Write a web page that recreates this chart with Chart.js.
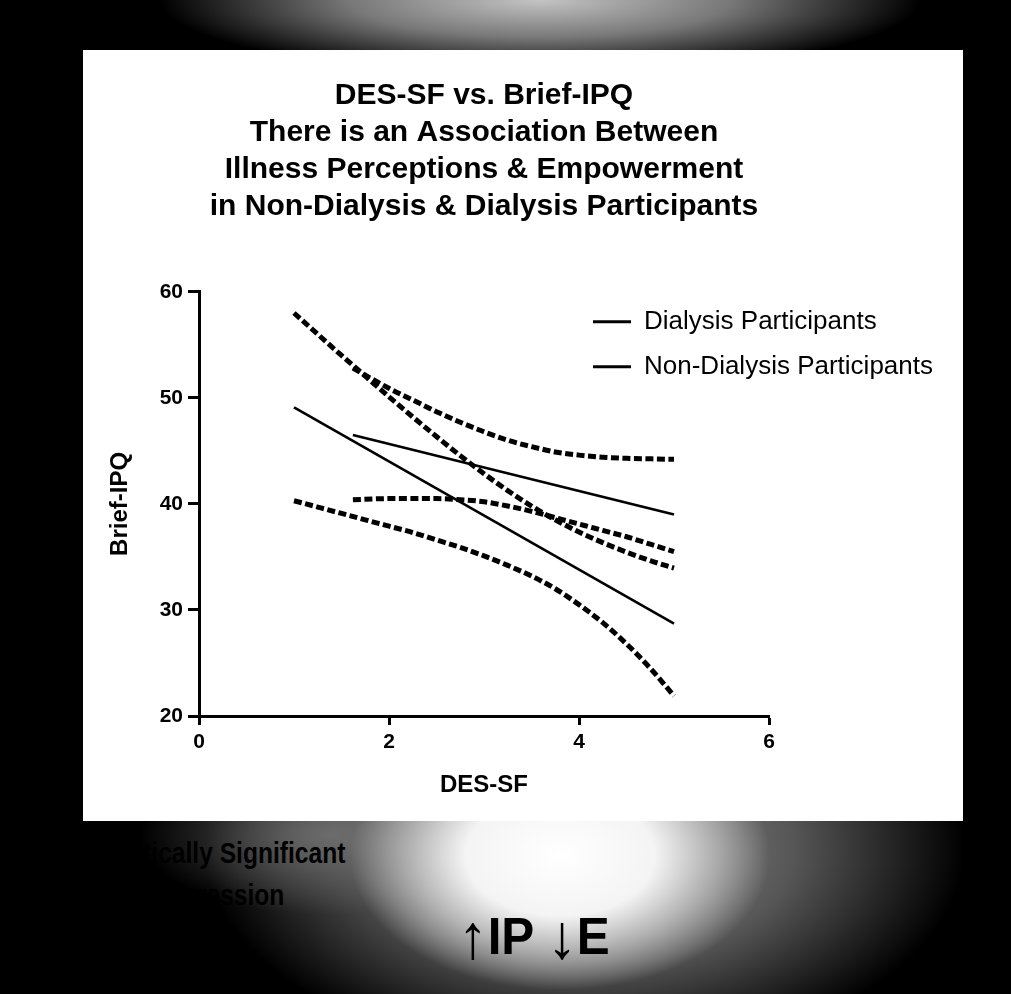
<!DOCTYPE html>
<html lang="en">
<head>
    <meta charset="UTF-8">
    <title>DES-SF vs. Brief-IPQ</title>
    <script src="https://cdn.jsdelivr.net/npm/chart.js"></script>
    <style>
        html, body {
            margin: 0;
            width: 1011px;
            height: 994px;
            overflow: hidden;
        }
        body {
            position: relative;
            background-color: #000;
            background-image:
                radial-gradient(ellipse 210px 135px at 560px 855px, #fff 0%, #f4f4f4 45%, rgba(200,200,200,0.8) 70%, rgba(150,150,150,0) 100%),
                radial-gradient(ellipse 380px 210px at 585px 850px, rgba(160,160,160,0.95) 0%, rgba(115,115,115,0.75) 55%, rgba(0,0,0,0) 100%),
                radial-gradient(ellipse 190px 80px at 330px 835px, rgba(125,125,125,0.8) 0%, rgba(0,0,0,0) 100%),
                radial-gradient(ellipse 380px 75px at 540px 0px, #c4c4c4 0%, rgba(150,150,150,0.8) 50%, rgba(0,0,0,0) 100%);
            font-family: "Liberation Sans", Arial, sans-serif;
        }
        .panel {
            position: absolute;
            left: 83px;
            top: 50px;
            width: 880px;
            height: 771px;
            background: #fff;
        }
        .slide-text {
            position: absolute;
            font-weight: bold;
            color: #000;
            white-space: nowrap;
            transform-origin: right center;
            transform: scaleX(0.82);
            line-height: 1;
        }
        #sig { right: 666px; top: 838px; font-size: 30px; }
        #reg { right: 727px; top: 880px; font-size: 30px; }
        #ipe { left: 458px; top: 902px; font-size: 52px; transform-origin: left center; transform: scaleX(0.95); }
        #ipe .arrow { font-weight: normal; font-size: 1.2em; position: relative; top: 0.06em; }
    </style>
</head>
<body>
    <div class="panel">
        <canvas id="desChart" width="880" height="771"></canvas>
    </div>
    <div class="slide-text" id="sig">Statistically Significant</div>
    <div class="slide-text" id="reg">Regression</div>
    <div class="slide-text" id="ipe"><span class="arrow">↑</span>IP <span class="arrow">↓</span>E</div>

    <script>
        // regression lines
        const lineAX = [1, 5];
        const lineAY = [49.1, 28.7];
        const lineBX = [1.62, 5];
        const lineBY = [46.5, 39.0];

        // dashed bands around the steep line
        const bandAX = [1, 1.25, 1.5, 1.75, 2, 2.25, 2.5, 2.75, 3, 3.25, 3.5, 3.75, 4, 4.25, 4.5, 4.75, 5];
        const upperA = [58.0, 56.0, 54.0, 52.05, 50.1, 48.2, 46.35, 44.55, 42.85, 41.25, 39.8, 38.5, 37.35, 36.35, 35.45, 34.65, 33.95];
        const lowerA = [40.3, 39.7, 39.1, 38.5, 37.9, 37.3, 36.6, 35.9, 35.1, 34.2, 33.2, 32.0, 30.5, 28.8, 26.8, 24.5, 21.9];

        // dashed bands around the shallow line
        const bandBX = [1.62, 2, 2.25, 2.5, 2.75, 3, 3.25, 3.5, 3.75, 4, 4.25, 4.5, 4.75, 5];
        const upperB = [52.8, 50.9, 49.8, 48.7, 47.7, 46.8, 46.0, 45.4, 44.9, 44.6, 44.4, 44.3, 44.25, 44.2];
        const lowerB = [40.4, 40.5, 40.5, 40.5, 40.4, 40.2, 39.8, 39.3, 38.7, 38.1, 37.5, 36.9, 36.2, 35.5];

        const titleLines = [
            'DES-SF vs. Brief-IPQ',
            'There is an Association Between',
            'Illness Perceptions & Empowerment',
            'in Non-Dialysis & Dialysis Participants'
        ];
        const xTicks = [0, 2, 4, 6];
        const yTicks = [20, 30, 40, 50, 60];

        function pts(xs, ys) {
            return xs.map((x, i) => ({ x: x, y: ys[i] }));
        }

        function solid(label, xs, ys) {
            return {
                label: label,
                data: pts(xs, ys),
                borderColor: '#000',
                backgroundColor: '#000',
                borderWidth: 2.6,
                pointRadius: 0,
                fill: false
            };
        }

        function dashed(xs, ys) {
            return {
                data: pts(xs, ys),
                borderColor: '#000',
                borderWidth: 5,
                borderDash: [8, 3.5],
                pointRadius: 0,
                fill: false,
                cubicInterpolationMode: 'monotone'
            };
        }

        // put the legend up near the top right of the plot, like the original
        const legendSpot = {
            id: 'legendSpot',
            afterLayout(chart) {
                const lg = chart.legend;
                const ca = chart.chartArea;
                if (!lg) return;
                lg.left = ca.left + 375;
                lg.top = ca.top - 2;
                lg.right = lg.left + lg.width;
                lg.bottom = lg.top + lg.height;
            }
        };

        Chart.defaults.font.family = '"Liberation Sans", Arial, sans-serif';
        Chart.defaults.color = '#000';

        const ctx = document.getElementById('desChart').getContext('2d');
        const desChart = new Chart(ctx, {
            type: 'line',
            data: {
                datasets: [
                    solid('Dialysis Participants', lineBX, lineBY),
                    solid('Non-Dialysis Participants', lineAX, lineAY),
                    dashed(bandAX, upperA),
                    dashed(bandAX, lowerA),
                    dashed(bandBX, upperB),
                    dashed(bandBX, lowerB)
                ]
            },
            options: {
                responsive: false,
                animation: false,
                devicePixelRatio: 1,
                layout: { padding: { left: 0, right: 194, top: 0, bottom: 0 } },
                plugins: {
                    tooltip: { enabled: false },
                    title: {
                        display: true,
                        text: titleLines,
                        fullSize: false,
                        color: '#000',
                        font: { size: 30, weight: 'bold', lineHeight: 1.24 },
                        padding: { top: 27, bottom: 66 }
                    },
                    legend: {
                        position: 'chartArea',
                        align: 'start',
                        labels: {
                            boxWidth: 38,
                            boxHeight: 3,
                            padding: 19,
                            color: '#000',
                            font: { size: 26 },
                            filter: (item) => !!item.text,
                            generateLabels(chart) {
                                const items = Chart.defaults.plugins.legend.labels.generateLabels(chart);
                                items.forEach((it) => {
                                    it.lineWidth = 0;
                                    it.lineDash = [];
                                    it.fillStyle = '#000';
                                });
                                return items;
                            }
                        }
                    }
                },
                scales: {
                    x: {
                        type: 'linear',
                        min: 0,
                        max: 6,
                        afterFit(scale) { scale.height = 105; },
                        afterBuildTicks(scale) { scale.ticks = xTicks.map(v => ({ value: v })); },
                        ticks: { font: { size: 21, weight: 'bold' }, padding: 5, color: '#000' },
                        grid: { drawOnChartArea: false, drawTicks: true, tickLength: 9, tickWidth: 3, tickColor: '#000' },
                        border: { display: true, width: 3, color: '#000' },
                        title: {
                            display: true,
                            text: 'DES-SF',
                            color: '#000',
                            font: { size: 24, weight: 'bold' },
                            padding: { bottom: 21 }
                        }
                    },
                    y: {
                        type: 'linear',
                        min: 20,
                        max: 60,
                        afterFit(scale) { scale.width = 116; },
                        afterBuildTicks(scale) { scale.ticks = yTicks.map(v => ({ value: v })); },
                        ticks: { font: { size: 21, weight: 'bold' }, padding: 5, color: '#000' },
                        grid: { drawOnChartArea: false, drawTicks: true, tickLength: 11, tickWidth: 3, tickColor: '#000' },
                        border: { display: true, width: 3, color: '#000' },
                        title: {
                            display: true,
                            text: 'Brief-IPQ',
                            color: '#000',
                            font: { size: 24, weight: 'bold' },
                            padding: { top: 23 }
                        }
                    }
                }
            },
            plugins: [legendSpot]
        });
    </script>
</body>
</html>
